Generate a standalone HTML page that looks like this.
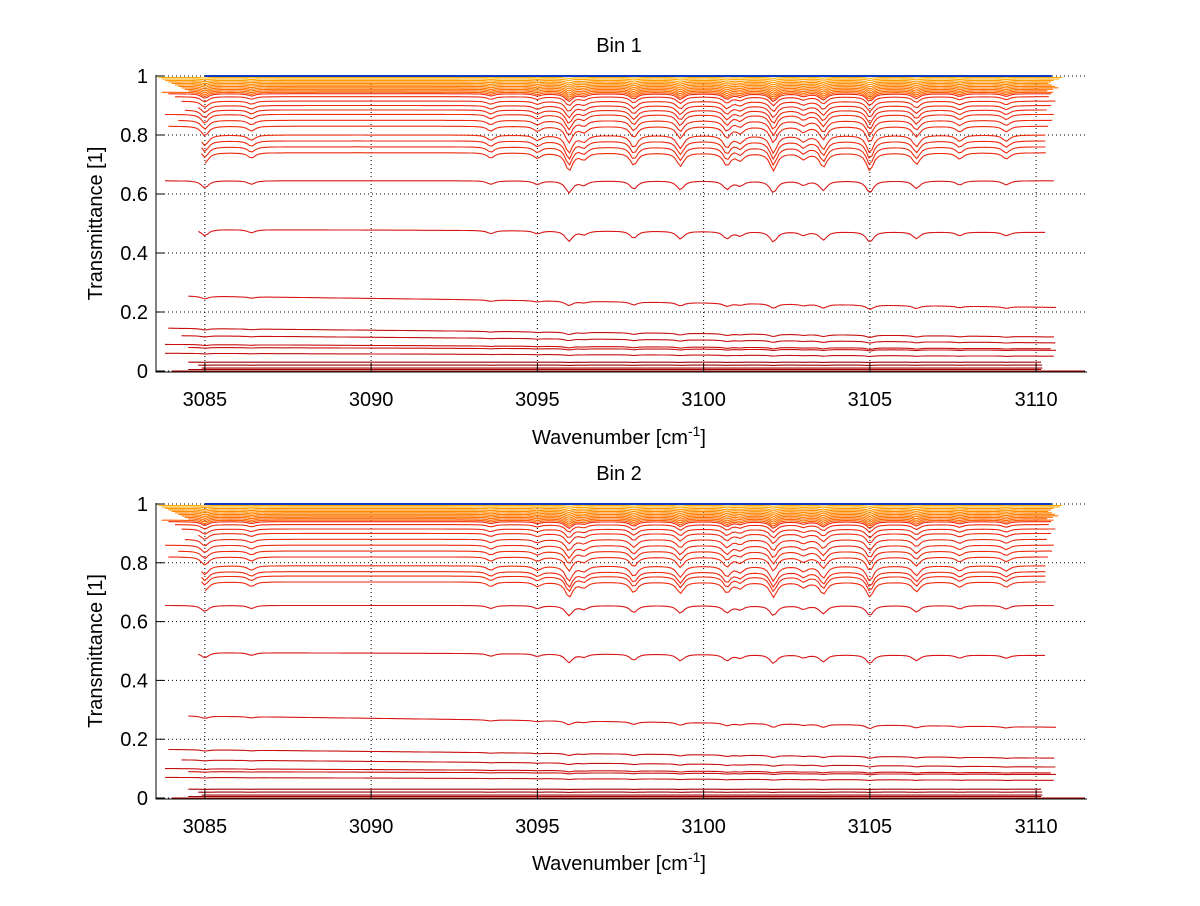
<!DOCTYPE html>
<html><head><meta charset="utf-8"><style>
body{margin:0;background:#fff;width:1200px;height:901px;overflow:hidden}
svg text{font-family:"Liberation Sans",sans-serif;fill:#000}
</style></head><body>
<svg id="fig" width="1200" height="901" viewBox="0 0 1200 901" xmlns="http://www.w3.org/2000/svg"></svg>
<script>
// ---- data ----
const xTicks=[3085,3090,3095,3100,3105,3110];
const yTicks=[0,0.2,0.4,0.6,0.8,1];
const yTickLabels=['0','0.2','0.4','0.6','0.8','1'];
const lineCenters=[3085.0,3086.4,3093.6,3095.0,3095.95,3096.4,3097.9,3099.3,3100.7,3101.1,3102.1,3103.0,3103.6,3105.0,3106.4,3107.7,3109.1];
const lineStrengths=[0.6,0.3,0.3,0.3,1.0,0.35,0.7,0.75,0.7,0.4,1.0,0.35,0.8,1.0,0.65,0.35,0.35];
// top panel series
const levels1=[1.0,0.995,0.99,0.985,0.98,0.975,0.97,0.965,0.96,0.955,0.95,0.945,0.94,0.93,0.915,0.9,0.885,0.87,0.85,0.83,0.8,0.78,0.76,0.74,0.645,0.48,0.255,0.145,0.12,0.09,0.08,0.06,0.03,0.02,0.01,0.005,0.0];
const startX1=[3085,3083.6,3083.7,3083.8,3083.9,3084,3084.1,3084.2,3084.3,3084.4,3084.5,3083.7,3083.9,3084.1,3084.3,3084.8,3084.4,3083.8,3084.2,3083.9,3084.9,3084.9,3084.9,3085,3083.8,3084.8,3084.5,3083.9,3084.3,3083.8,3084.5,3083.8,3084.5,3084.8,3084.9,3084.5,3084.0];
const endX1=[3110.5,3110.8,3110.7,3110.6,3110.5,3110.4,3110.5,3110.6,3110.7,3110.5,3110.4,3110.6,3110.5,3110.4,3110.6,3110.5,3110.4,3110.6,3110.5,3110.4,3110.3,3110.3,3110.3,3110.3,3110.6,3110.3,3110.6,3110.6,3110.6,3110.5,3110.6,3110.6,3110.2,3110.2,3110.2,3110.2,3111.5];
const depth1=[0,0.003,0.005,0.008,0.01,0.012,0.014,0.016,0.018,0.02,0.022,0.024,0.026,0.03,0.035,0.04,0.045,0.05,0.05,0.055,0.06,0.06,0.06,0.06,0.04,0.035,0.015,0.008,0.006,0.005,0.004,0.003,0.001,0.001,0,0,0];
const slope1=[0,0,0,0,0,0,0,0,0,0,0,0,0,0,0,0,0,0,0,0,0,0,0,0,0,-0.01,-0.04,-0.03,-0.025,-0.015,-0.01,-0.01,0,0,0,0,0];
// bottom panel series
const levels2=[1.0,0.995,0.99,0.985,0.98,0.975,0.97,0.965,0.96,0.955,0.95,0.945,0.94,0.93,0.915,0.9,0.88,0.86,0.84,0.82,0.79,0.77,0.755,0.735,0.655,0.495,0.28,0.165,0.13,0.1,0.09,0.07,0.03,0.02,0.01,0.005,0.0];
const startX2=[3085,3083.6,3083.7,3083.8,3083.9,3084,3084.1,3084.2,3084.3,3084.4,3084.5,3083.7,3083.9,3084.1,3084.3,3084.8,3084.4,3083.8,3084.2,3083.9,3084.9,3084.9,3084.9,3085,3083.8,3084.8,3084.5,3083.9,3084.3,3083.8,3084.5,3083.8,3084.5,3084.8,3084.9,3084.5,3084.0];
const endX2=endX1;
const depth2=depth1.map(d=>d*0.85);
const slope2=[0,0,0,0,0,0,0,0,0,0,0,0,0,0,0,0,0,0,0,0,0,0,0,0,0,-0.01,-0.04,-0.03,-0.025,-0.015,-0.01,-0.01,0,0,0,0,0];

const NS='http://www.w3.org/2000/svg';
const svg=document.getElementById('fig');
function el(t,a,p){const e=document.createElementNS(NS,t);for(const k in a)e.setAttribute(k,a[k]);(p||svg).appendChild(e);return e;}
const XMIN=3083.53,XMAX=3111.53,L=156,R=1087;
function sx(v){return L+(v-XMIN)/(XMAX-XMIN)*(R-L);}
function color(lv,i){
  if(i===0)return '#0a3cc8';
  if(lv>0.94)return ['#ffb000','#ffa500','#ff9900','#ff9000','#ff8a00','#ff8400','#ff7e00','#ff7600','#ff7000','#ff6800','#ff6000','#ff5800','#ff5000'][Math.min(12,i-1)];
  if(lv>0.7)return '#ee2a10';
  if(lv>0.2)return '#d81818';
  return lv>0.05?'#c81010':'#a00000';
}
function profile(x){let s=0;for(let j=0;j<lineCenters.length;j++){const d=(x-lineCenters[j])/0.13;s+=lineStrengths[j]/(1+d*d);}return s;}
function panel(name,top,bot,title,titleY,xlabY,levels,sX,eX,depth,slope){
  const g=el('g',{});
  
  
  const sy=v=>bot-(v)*(bot-top);
  xTicks.forEach(t=>{const l=el('line',{x1:sx(t),x2:sx(t),y1:top,y2:bot,stroke:'#000','stroke-width':1,'stroke-dasharray':'1,3'},g);});
  yTicks.forEach(t=>{const l=el('line',{x1:L,x2:R,y1:sy(t),y2:sy(t),stroke:'#000','stroke-width':1,'stroke-dasharray':'1,3'},g);});
  for(let i=levels.length-1;i>=0;i--){
    let pts=[];
    for(let x=sX[i];x<=eX[i]+1e-9;x+=0.09){
      const fr=(x-3084)/27;
      let v=levels[i]+slope[i]*fr-depth[i]*profile(x);
      v=Math.min(1,Math.max(0,v));
      pts.push(sx(x).toFixed(1)+','+sy(v).toFixed(1));
    }
    const p=el('polyline',{points:pts.join(' '),fill:'none',stroke:color(levels[i],i),'stroke-width':i===0?2:1.1},g);
    
    
  }
  const ax=el('path',{d:`M${L},${top-1}V${bot+1}H${R}`,stroke:'#000',fill:'none','stroke-width':1},g);
  
  xTicks.forEach(t=>{
    el('line',{x1:sx(t),x2:sx(t),y1:bot+1,y2:bot-8,stroke:'#000'},g);
    const tx=el('text',{x:sx(t),y:bot+35,'text-anchor':'middle','font-size':20},g);tx.textContent=t;
    
  });
  yTicks.forEach((t,k)=>{
    el('line',{x1:L,x2:L+8,y1:sy(t),y2:sy(t),stroke:'#000'},g);
    const tx=el('text',{x:L-8,y:sy(t)+7,'text-anchor':'end','font-size':20},g);tx.textContent=yTickLabels[k];
    
  });
  const ti=el('text',{x:619,y:titleY,'text-anchor':'middle','font-size':20},g);ti.textContent=title;
  
  const xl=el('text',{x:619,y:xlabY,'text-anchor':'middle','font-size':20},g);
  xl.innerHTML='Wavenumber [cm<tspan dy="-8" font-size="14">-1</tspan><tspan dy="8">]</tspan>';
  
  const yl=el('text',{x:0,y:0,'text-anchor':'middle','font-size':20,transform:`translate(102,${(top+bot)/2}) rotate(-90)`},g);yl.textContent='Transmittance [1]';
  
}
panel('bin1-panel',76,371,'Bin 1',52,444,levels1,startX1,endX1,depth1,slope1);
panel('bin2-panel',504,798,'Bin 2',480,870,levels2,startX2,endX2,depth2,slope2);
</script>
</body></html>
